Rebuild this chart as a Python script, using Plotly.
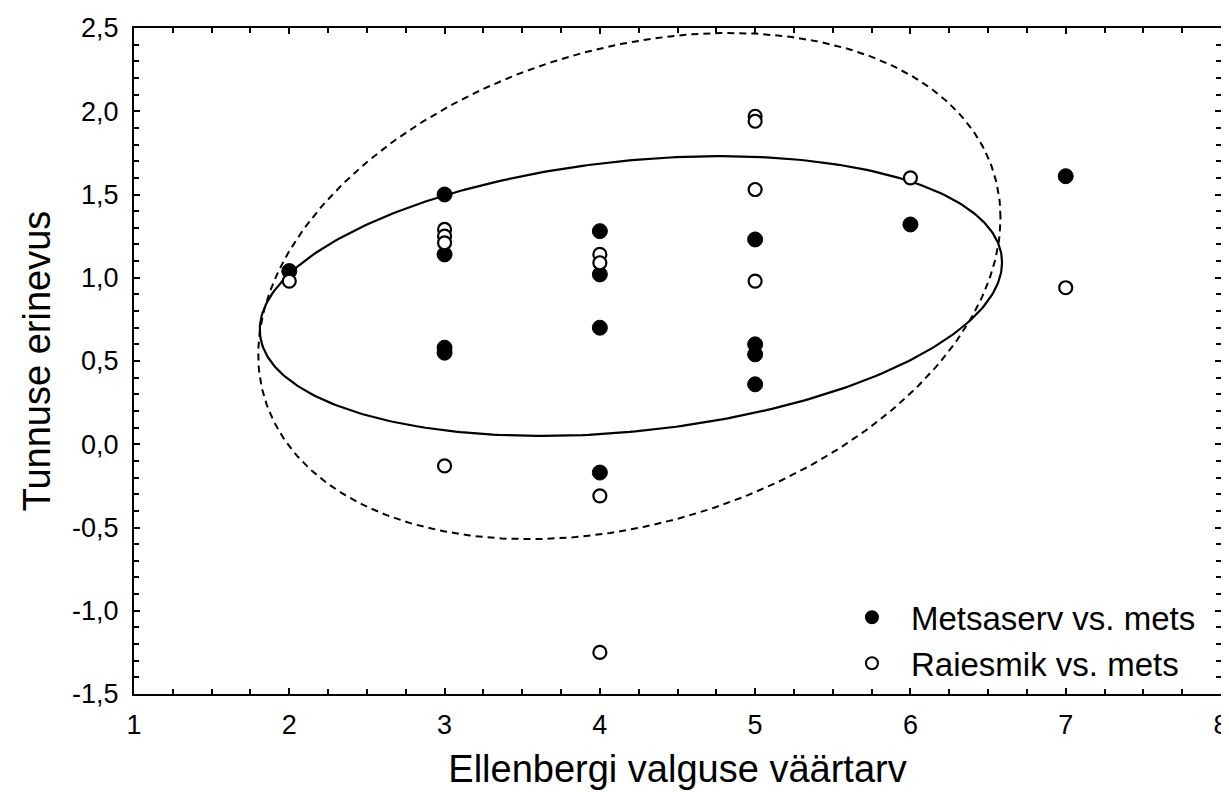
import numpy as np
import plotly.graph_objects as go

# ---- data ----
metsaserv_x = [2, 3, 3, 3, 3, 4, 4, 4, 4, 5, 5, 5, 5, 6, 7]
metsaserv_y = [1.04, 1.50, 1.14, 0.58, 0.55, 1.28, 1.02, 0.70, -0.17, 1.23, 0.60, 0.54, 0.36, 1.32, 1.61]

raiesmik_x = [2, 3, 3, 3, 3, 4, 4, 4, 4, 5, 5, 5, 5, 6, 7]
raiesmik_y = [0.98, 1.29, 1.25, 1.21, -0.13, 1.14, 1.09, -0.31, -1.25, 1.97, 1.94, 1.53, 0.98, 1.60, 0.94]

# ellipse parameters: centre x, centre y, half-width, half-height, cos(phase)
ellipse_metsaserv = dict(cx=4.20, cy=0.89, a=2.39, b=0.84, c=0.24)
ellipse_raiesmik = dict(cx=4.19, cy=0.95, a=2.39, b=1.52, c=0.27)

x_ticks = [1, 2, 3, 4, 5, 6, 7, 8]
y_ticks = [2.5, 2.0, 1.5, 1.0, 0.5, 0.0, -0.5, -1.0, -1.5]
y_ticktext = ["2,5", "2,0", "1,5", "1,0", "0,5", "0,0", "-0,5", "-1,0", "-1,5"]

FONT = "Liberation Sans, Arial, sans-serif"


def ellipse(p):
    t = np.linspace(0, 2 * np.pi, 400)
    phi = np.arccos(p["c"])
    return p["cx"] + p["a"] * np.cos(t), p["cy"] + p["b"] * np.cos(t - phi)


fig = go.Figure()

ex, ey = ellipse(ellipse_raiesmik)
fig.add_trace(go.Scatter(x=ex, y=ey, mode="lines", showlegend=False, hoverinfo="skip",
                         line=dict(color="black", width=2, dash="7px,5px")))
ex, ey = ellipse(ellipse_metsaserv)
fig.add_trace(go.Scatter(x=ex, y=ey, mode="lines", showlegend=False, hoverinfo="skip",
                         line=dict(color="black", width=2.2)))

fig.add_trace(go.Scatter(x=metsaserv_x, y=metsaserv_y, mode="markers", name="Metsaserv vs. mets",
                         marker=dict(symbol="circle", size=15, color="black",
                                     line=dict(color="black", width=1))))
fig.add_trace(go.Scatter(x=raiesmik_x, y=raiesmik_y, mode="markers", name="Raiesmik vs. mets",
                         marker=dict(symbol="circle", size=13, color="white",
                                     line=dict(color="black", width=2.2))))

axis_common = dict(
    showgrid=False, zeroline=False, showline=True, linecolor="black", linewidth=2,
    mirror="allticks", ticks="inside", ticklen=6, tickwidth=1.5, tickcolor="black",
    tickfont=dict(family=FONT, size=27, color="black"), automargin=False,
    ticklabeloverflow="allow",
)

fig.update_xaxes(range=[1, 8], tickvals=x_ticks, ticktext=[str(v) for v in x_ticks],
                 minor=dict(dtick=0.25, ticks="inside", ticklen=5, tickwidth=1.5, tickcolor="black"),
                 title=dict(text="Ellenbergi valguse väärtarv", font=dict(family=FONT, size=38, color="black"),
                            standoff=16),
                 ticklabelstandoff=6,
                 **axis_common)
fig.update_yaxes(range=[-1.5, 2.5], tickvals=y_ticks, ticktext=y_ticktext,
                 minor=dict(dtick=0.1, ticks="inside", ticklen=5, tickwidth=1.5, tickcolor="black"),
                 title=dict(text="Tunnuse erinevus", font=dict(family=FONT, size=38, color="black"),
                            standoff=10),
                 ticklabelstandoff=8,
                 **axis_common)

fig.update_layout(
    width=1229, height=792,
    margin=dict(l=126, r=16, t=20, b=106),
    paper_bgcolor="white", plot_bgcolor="white",
    font=dict(family=FONT, color="black"),
    legend=dict(x=0.643, y=0.004, xanchor="left", yanchor="bottom",
                font=dict(family=FONT, size=33, color="black"),
                bgcolor="rgba(0,0,0,0)", tracegroupgap=0, itemsizing="constant",
                itemwidth=68),
)

fig.write_html("out.html")
